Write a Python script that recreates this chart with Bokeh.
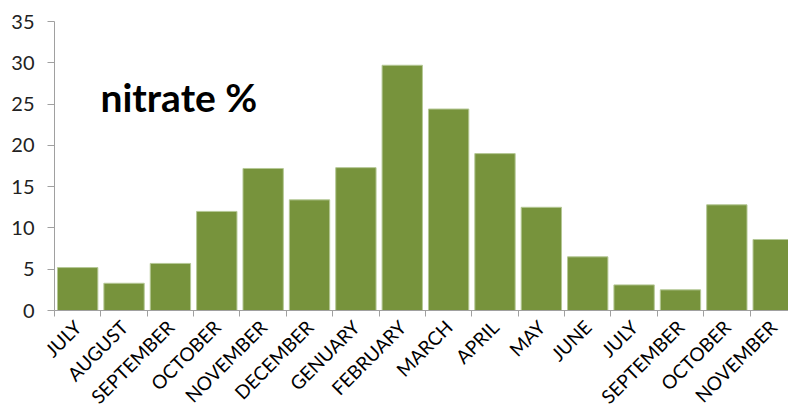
import math
from bokeh.plotting import figure
from bokeh.models import ColumnDataSource, FixedTicker, Label, Range1d
from bokeh.embed import file_html
from bokeh.resources import INLINE

months = ["JULY", "AUGUST", "SEPTEMBER", "OCTOBER", "NOVEMBER", "DECEMBER",
          "GENUARY", "FEBRUARY", "MARCH", "APRIL", "MAY", "JUNE",
          "JULY", "SEPTEMBER", "OCTOBER", "NOVEMBER"]
nitrate = [5.2, 3.3, 5.7, 12.0, 17.2, 13.4, 17.3, 29.7, 24.4, 19.0, 12.5, 6.5,
           3.1, 2.5, 12.8, 8.6]
y_ticks = [0, 5, 10, 15, 20, 25, 30, 35]

positions = list(range(1, len(months) + 1))
source = ColumnDataSource(dict(x=positions, top=nitrate))

FONT = "Lato"

p = figure(width=788, height=419, output_backend="svg", toolbar_location=None,
           x_range=Range1d(0.5, 16.33), y_range=Range1d(0, 35),
           min_border_left=54, min_border_right=0, min_border_top=21,
           min_border_bottom=109)
p.outline_line_color = None
p.xgrid.visible = False
p.ygrid.visible = False
p.background_fill_color = "white"
p.border_fill_color = "white"

p.vbar(x="x", top="top", width=0.87, bottom=0, source=source,
       fill_color="#77933C", line_color="#b5c896", line_width=1)

# x axis: labels at bar centres, ticks at boundaries
xa = p.xaxis[0]
xa.ticker = FixedTicker(ticks=positions,
                        minor_ticks=[k + 0.5 for k in range(0, len(months) + 1)])
xa.major_label_overrides = {i: m for i, m in zip(positions, months)}
xa.major_label_orientation = math.pi / 4
xa.major_tick_out = 0
xa.major_tick_in = 0
xa.minor_tick_out = 6
xa.minor_tick_in = 0
xa.minor_tick_line_color = "#a0a0a0"
xa.axis_line_color = "#a0a0a0"
xa.major_label_text_font = FONT
xa.major_label_text_font_size = "19px"
xa.major_label_text_color = "#000000"
xa.major_label_standoff = 7

ya = p.yaxis[0]
ya.ticker = FixedTicker(ticks=y_ticks)
ya.minor_tick_line_color = None
ya.major_tick_out = 7
ya.major_tick_in = 0
ya.major_tick_line_color = "#a0a0a0"
ya.axis_line_color = "#a0a0a0"
ya.major_label_text_font = FONT
ya.major_label_text_font_size = "20px"
ya.major_label_text_color = "#222222"
ya.major_label_standoff = 13

p.add_layout(Label(x=1.49, y=25.8, text="nitrate %", text_font=FONT,
                   text_font_size="39px", text_font_style="bold",
                   text_baseline="middle", text_color="#000000"))

open("out.html", "w").write(file_html(p, INLINE))
